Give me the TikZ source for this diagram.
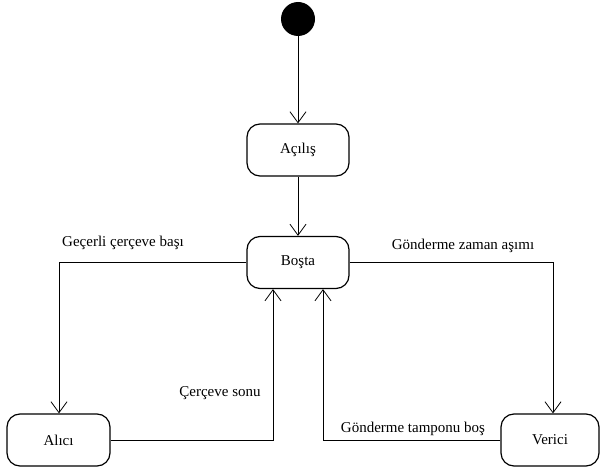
\documentclass[tikz,border=0pt]{standalone}
\usepackage{fontspec}
\setmainfont{Liberation Serif}
\newfontfamily\diagfont{Liberation Serif}
\usetikzlibrary{arrows.meta}
\begin{document}
\begin{tikzpicture}[x=1pt,y=-1pt,
  state/.style={draw,line width=1.2pt,rounded corners=13pt,minimum width=102pt,minimum height=52pt,inner sep=0pt,font=\diagfont\fontsize{15}{17}\selectfont},
  lbl/.style={font=\diagfont\fontsize{15}{17}\selectfont,inner sep=0pt},
  tr/.style={draw,line width=0.8pt,-{Straight Barb[length=11pt,width=16pt,line width=0.8pt]}}]
\useasboundingbox (0,0) rectangle (600,468);
\node[circle,fill=black,minimum size=34pt,inner sep=0pt] (init) at (298,19) {};
\node[state] (acilis) at (298,150) {Açılış};
\node[state] (bosta) at (298,262.5) {Boşta};
\node[state,minimum width=103pt] (alici) at (58.5,440) {Alıcı};
\node[state,minimum width=98pt] (verici) at (550,440) {Verici};
\coordinate (c1) at (59,262.5);
\coordinate (c2) at (553,262.5);
\coordinate (c3) at (273,440);
\coordinate (c4) at (323,440);
\draw[tr] (init) -- (acilis);
\draw[tr] (acilis) -- (bosta);
\draw[tr] (bosta.west) -- (c1) -- (c1 |- alici.north);
\draw[tr] (bosta.east) -- (c2) -- (c2 |- verici.north);
\draw[tr] (alici.east) -- (c3) -- (c3 |- bosta.south);
\draw[tr] (verici.west) -- (c4) -- (c4 |- bosta.south);
\node[lbl] (l1) at (123,243) {Geçerli çerçeve başı};
\node[lbl] (l2) at (463,246) {Gönderme zaman aşımı};
\node[lbl] (l3) at (220,393) {Çerçeve sonu};
\node[lbl] (l4) at (413,429) {Gönderme tamponu boş};
\end{tikzpicture}
\end{document}
